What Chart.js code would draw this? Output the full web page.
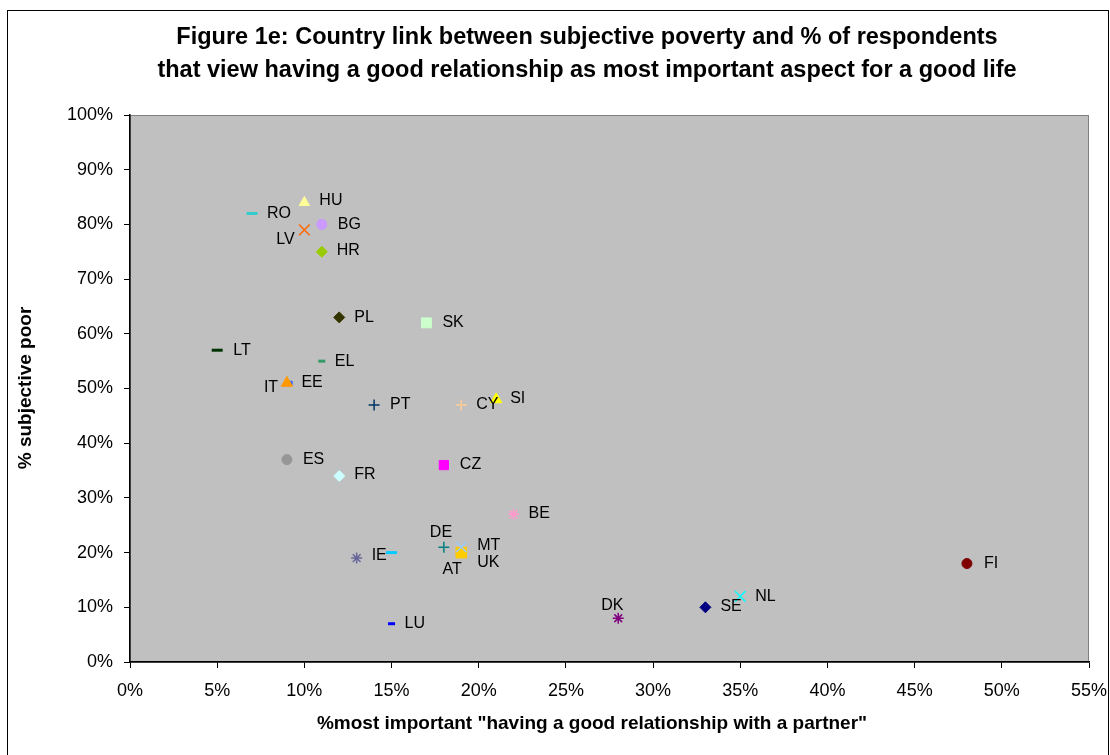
<!DOCTYPE html>
<html>
<head>
<meta charset="utf-8">
<script src="https://cdn.jsdelivr.net/npm/chart.js@4"></script>
<style>
  html, body { margin: 0; padding: 0; background: #fff; }
  #wrap { width: 1110px; height: 755px; }
</style>
</head>
<body>
<div id="wrap"><canvas id="povertyChart" width="1110" height="755"></canvas></div>
<script>
// Figure 1e data
const countries = ['RO', 'HU', 'BG', 'LV', 'HR', 'PL', 'SK', 'LT', 'EL', 'IT', 'EE', 'PT', 'CY', 'SI',
    'ES', 'FR', 'CZ', 'BE', 'DE', 'MT', 'UK', 'AT', 'IE', 'LU', 'DK', 'SE', 'NL', 'FI'];
const partnerPct = [7, 10, 11, 10, 11, 12, 17, 5, 11, 9, 9.2, 14, 19, 21,
    9, 12, 18, 22, 18, 19, 19, 15, 13, 15, 28, 33, 35, 48];
const poorPct = [82, 84, 80, 79, 75, 63, 62, 57, 55, 51, 51, 47, 47, 48,
    37, 34, 36, 27, 21, 21, 20, 20, 19, 7, 8, 10, 12, 18];
const xTicks = [0, 5, 10, 15, 20, 25, 30, 35, 40, 45, 50, 55];
const yTicks = [0, 10, 20, 30, 40, 50, 60, 70, 80, 90, 100];

// marker styles (Excel defaults)
const colors = ['#33CCCC', '#FFFF99', '#CC99FF', '#FF6600', '#99CC00', '#333300', '#CCFFCC', '#003300',
    '#339966', '#FF9900', '#3366FF', '#003366', '#FFCC99', '#FFFF00', '#969696', '#CCFFFF', '#FF00FF',
    '#FF99CC', '#008080', '#99CCFF', '#FFCC00', '#00CCFF', '#666699', '#0000FF', '#800080', '#000080',
    '#00FFFF', '#800000'];
const shapes = ['line', 'triangle', 'circle', 'crossRot', 'rectRot', 'rectRot', 'rect', 'line',
    'line', 'triangle', 'rect', 'cross', 'cross', 'triangle', 'circle', 'rectRot', 'rect',
    'star', 'cross', 'crossRot', 'rect', 'line', 'star', 'line', 'star', 'rectRot', 'crossRot', 'circle'];
const radii = [5.5, 6, 5, 7.5, 5.5, 5.5, 7, 5.5, 3.5, 6.5, 2.5, 5.5, 5.5, 6.5, 5, 5.5, 6.5,
    5.5, 5.5, 7, 7.5, 5.5, 5.5, 3.5, 5.5, 5.5, 7.5, 5];

// label placement relative to marker (px)
const labelOffsets = [[15, 0], [15, -2], [16, 0], [-28, 10], [15, -1], [15, 0], [16, 0], [16, 0],
    [13, 0], [-23, 5], [11, 0], [16, 0], [15, 0], [14, -1], [16, 0], [15, -1], [16, 0], [15, -1],
    [-14, -15], [16, -2], [16, 10], [51, 17], [15, -2], [13, 0], [-17, -13], [15, -1], [15, 0], [17, 0]];

const datasets = countries.map((c, i) => {
    const lineLike = ['line', 'cross', 'crossRot', 'star'].includes(shapes[i]);
    return {
        label: c,
        data: [{ x: partnerPct[i], y: poorPct[i] }],
        pointStyle: shapes[i],
        pointRadius: radii[i],
        pointHoverRadius: radii[i],
        backgroundColor: colors[i],
        borderColor: colors[i],
        borderWidth: shapes[i] === 'line' ? 3 : (lineLike ? 1.5 : 1)
    };
});

// gray plot area, outer frame, title and point labels
const excelLook = {
    id: 'excelLook',
    beforeDraw(chart) {
        const ctx = chart.ctx;
        const a = chart.chartArea;
        ctx.save();
        ctx.fillStyle = '#fff';
        ctx.fillRect(0, 0, chart.width, chart.height);
        ctx.strokeStyle = '#000';
        ctx.lineWidth = 1;
        ctx.strokeRect(7.5, 10.5, 1101, 800);
        ctx.fillStyle = '#C0C0C0';
        ctx.fillRect(a.left, a.top, a.right - a.left, a.bottom - a.top);
        ctx.strokeStyle = '#808080';
        ctx.strokeRect(a.left + 0.5, a.top + 0.5, a.right - a.left - 1, a.bottom - a.top);
        ctx.restore();
    },
    afterDraw(chart) {
        const ctx = chart.ctx;
        ctx.save();
        ctx.fillStyle = '#000';
        ctx.textBaseline = 'middle';

        ctx.textAlign = 'center';
        ctx.font = 'bold 23.5px "Liberation Sans", Arial, sans-serif';
        ctx.fillText('Figure 1e: Country link between subjective poverty and % of respondents', 587, 38);
        ctx.fillText('that view having a good relationship as most important aspect for a good life', 587, 71);

        ctx.font = 'bold 19px "Liberation Sans", Arial, sans-serif';
        ctx.fillText('%most important "having a good relationship with a partner"', 592, 724);
        ctx.save();
        ctx.translate(26, 388);
        ctx.rotate(-Math.PI / 2);
        ctx.fillText('% subjective poor', 0, 0);
        ctx.restore();

        ctx.textAlign = 'left';
        ctx.font = '16px "Liberation Sans", Arial, sans-serif';
        chart.data.datasets.forEach((ds, i) => {
            const pt = chart.getDatasetMeta(i).data[0];
            ctx.fillText(ds.label, pt.x + labelOffsets[i][0], pt.y + labelOffsets[i][1]);
        });
        ctx.restore();
    }
};

const tickFont = { family: '"Liberation Sans", Arial, sans-serif', size: 18 };

new Chart(document.getElementById('povertyChart').getContext('2d'), {
    type: 'scatter',
    data: { datasets: datasets },
    options: {
        responsive: false,
        animation: false,
        layout: { padding: { left: 0, top: 115, right: 21, bottom: 0 } },
        plugins: {
            legend: { display: false },
            tooltip: { enabled: false },
            title: { display: false }
        },
        scales: {
            x: {
                type: 'linear',
                min: 0,
                max: 55,
                afterBuildTicks: (s) => { s.ticks = xTicks.map(v => ({ value: v })); },
                afterFit: (s) => { s.height = 93; s.paddingLeft = 0; s.paddingRight = 0; },
                ticks: { font: tickFont, color: '#000', padding: 12, maxRotation: 0,
                    callback: (v) => v + '%' },
                grid: { drawOnChartArea: false, drawTicks: true, tickLength: 6, color: '#000' },
                border: { display: true, color: '#000', width: 1.5 }
            },
            y: {
                type: 'linear',
                min: 0,
                max: 100,
                afterBuildTicks: (s) => { s.ticks = yTicks.map(v => ({ value: v })); },
                afterFit: (s) => { s.width = 130; s.paddingTop = 0; s.paddingBottom = 0; },
                ticks: { font: tickFont, color: '#000', padding: 11,
                    callback: (v) => v + '%' },
                grid: { drawOnChartArea: false, drawTicks: true, tickLength: 6, color: '#000' },
                border: { display: true, color: '#000', width: 1.5 }
            }
        }
    },
    plugins: [excelLook]
});
</script>
</body>
</html>
